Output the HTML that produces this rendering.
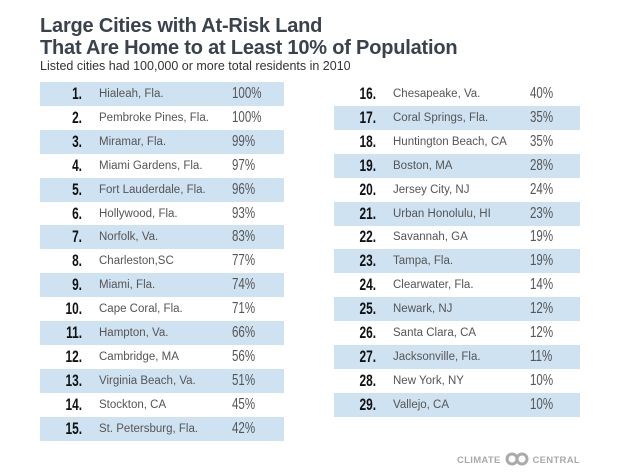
<!DOCTYPE html>
<html><head><meta charset="utf-8"><style>
body{margin:0;width:620px;height:475px;background:#fff;font-family:"Liberation Sans",sans-serif;position:relative;overflow:hidden}
.t{position:absolute;left:40px;color:#39424d;font-size:20px;font-weight:bold;letter-spacing:-0.2px;line-height:22px}
.sub{position:absolute;left:40px;top:59px;font-size:12.5px;color:#333}
.row{position:absolute;height:24px;line-height:24px}
.row.s{background:#cfe2f2}
.n{position:absolute;width:40px;text-align:right;font-weight:bold;font-size:17px;color:#111;transform:scaleX(0.7);transform-origin:right center}
.c{position:absolute;font-size:11.5px;color:#555}
.p{position:absolute;font-size:16px;color:#555;transform:scaleX(0.72);transform-origin:left center}
.logo{position:absolute;left:457px;top:452px;font-size:9.5px;font-weight:bold;color:#aaa;letter-spacing:0.3px}
</style></head><body>
<div class="t" style="top:15px">Large Cities with At-Risk Land<br>That Are Home to at Least 10% of Population</div>
<div class="sub">Listed cities had 100,000 or more total residents in 2010</div>
<div id="tbl"></div>
<div class="logo">CLIMATE <svg width="26" height="14" style="vertical-align:-3px"><circle cx="8" cy="7" r="5" fill="none" stroke="#aaa" stroke-width="3"/><circle cx="18" cy="7" r="5" fill="none" stroke="#aaa" stroke-width="3"/></svg> CENTRAL</div>
<script>
const ranks=[1,2,3,4,5,6,7,8,9,10,11,12,13,14,15,16,17,18,19,20,21,22,23,24,25,26,27,28,29];
const cities=["Hialeah, Fla.","Pembroke Pines, Fla.","Miramar, Fla.","Miami Gardens, Fla.","Fort Lauderdale, Fla.","Hollywood, Fla.","Norfolk, Va.","Charleston,SC","Miami, Fla.","Cape Coral, Fla.","Hampton, Va.","Cambridge, MA","Virginia Beach, Va.","Stockton, CA","St. Petersburg, Fla.","Chesapeake, Va.","Coral Springs, Fla.","Huntington Beach, CA","Boston, MA","Jersey City, NJ","Urban Honolulu, HI","Savannah, GA","Tampa, Fla.","Clearwater, Fla.","Newark, NJ","Santa Clara, CA","Jacksonville, Fla.","New York, NY","Vallejo, CA"];
const pcts=[100,100,99,97,96,93,83,77,74,71,66,56,51,45,42,40,35,35,28,24,23,19,19,14,12,12,11,10,10];
const tbl=document.getElementById('tbl');
ranks.forEach((r,i)=>{
  const left=i<15;
  const k=left?i:i-15;
  const row=document.createElement('div');
  
  
  row.className='row'+(k%2===(left?0:1)?' s':'');
  row.style.left=(left?40:334)+'px';
  row.style.width=(left?244:246)+'px';
  row.style.top=(82+k*23.9)+'px';
  row.innerHTML='<span class="n" style="left:2px">'+r+'.</span><span class="c" style="left:59px">'+cities[i]+'</span><span class="p" style="left:'+(left?192:196)+'px">'+pcts[i]+'%</span>';
  tbl.appendChild(row);
});
</script>
</body></html>
